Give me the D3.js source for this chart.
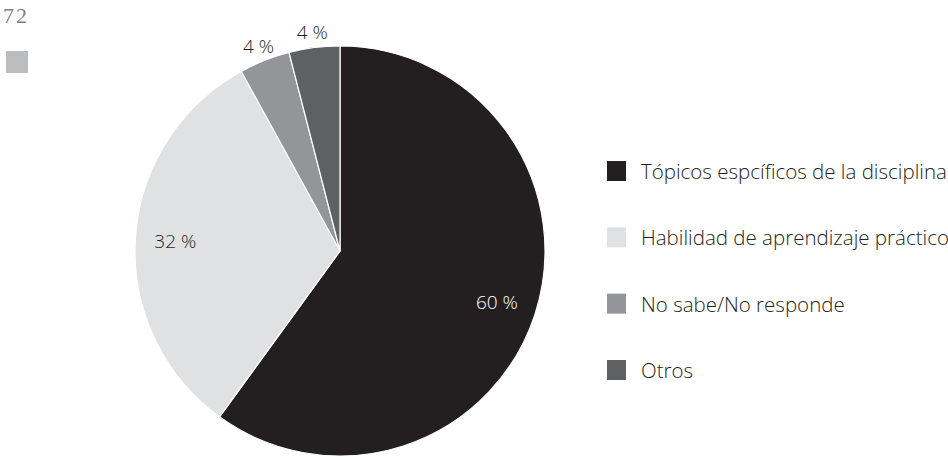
<!DOCTYPE html>
<html>
<head>
<meta charset="utf-8">
<script src="https://cdn.jsdelivr.net/npm/d3@7/dist/d3.min.js"></script>
<style>
  html, body { margin: 0; padding: 0; background: #fff; }
  svg { display: block; }
</style>
</head>
<body>
<svg id="chart" width="948" height="457"></svg>
<script>
// Categories and shares (%)
const categories = [
  "Tópicos espcíficos de la disciplina",
  "Habilidad de aprendizaje práctico",
  "No sabe/No responde",
  "Otros"
];
const values = [60, 32, 4, 4];
const colors = ["#231f20", "#e0e1e2", "#939598", "#5f6062"];
const labelColors = ["#ffffff", "#231f20", "#231f20", "#231f20"];
const pageNumber = "72";

const font = "'Open Sans', 'Lato', sans-serif";
const svg = d3.select("#chart");

// Page marker in the top-left corner
svg.append("text")
  .attr("x", 3).attr("y", 23)
  .attr("font-family", "'Liberation Serif', 'DejaVu Serif', serif")
  .attr("font-size", 22)
  .attr("letter-spacing", 2)
  .attr("fill", "#808080")
  .text(pageNumber);
svg.append("rect")
  .attr("x", 6).attr("y", 51).attr("width", 22).attr("height", 22)
  .attr("fill", "#bcbdc0");

const cx = 340, cy = 251, r = 205;
const data = categories.map((c, i) => ({ name: c, value: values[i], color: colors[i], labelColor: labelColors[i] }));

const pie = d3.pie().value(d => d.value).sort(null);
const arcs = pie(data);
const arc = d3.arc().innerRadius(0).outerRadius(r);
const inner = d3.arc().innerRadius(165).outerRadius(165);
const outer = d3.arc().innerRadius(221).outerRadius(221);

const g = svg.append("g").attr("transform", `translate(${cx},${cy})`);

g.selectAll("path.slice")
  .data(arcs)
  .join("path")
  .attr("class", "slice")
  .attr("d", arc)
  .attr("fill", d => d.data.color)
  .attr("stroke", "#ffffff")
  .attr("stroke-width", 1.2);

// Value labels: large slices inside, small slices outside the rim
g.selectAll("text.value")
  .data(arcs)
  .join("text")
  .attr("class", "value")
  .attr("transform", d => {
    const small = d.data.value < 10;
    const p = (small ? outer : inner).centroid(d);
    return `translate(${p[0]},${p[1]})`;
  })
  .attr("text-anchor", "middle")
  .attr("dominant-baseline", "central")
  .attr("font-family", font)
  .attr("font-weight", 300)
  .attr("font-size", 19)
  .attr("fill", d => d.data.value < 10 ? "#231f20" : d.data.labelColor)
  .text(d => `${d.data.value} %`);

// Legend
const legendY = d3.scalePoint().domain(categories).range([171, 370]);
const legend = svg.append("g");
const items = legend.selectAll("g")
  .data(data)
  .join("g")
  .attr("transform", d => `translate(607,${legendY(d.name)})`);
items.append("rect")
  .attr("x", 0).attr("y", -10).attr("width", 19).attr("height", 20)
  .attr("fill", d => d.color);
items.append("text")
  .attr("x", 34).attr("y", 0)
  .attr("dominant-baseline", "central")
  .attr("font-family", font)
  .attr("font-weight", 300)
  .attr("font-size", 20.5)
  .attr("fill", "#231f20")
  .text(d => d.name);
</script>
</body>
</html>
